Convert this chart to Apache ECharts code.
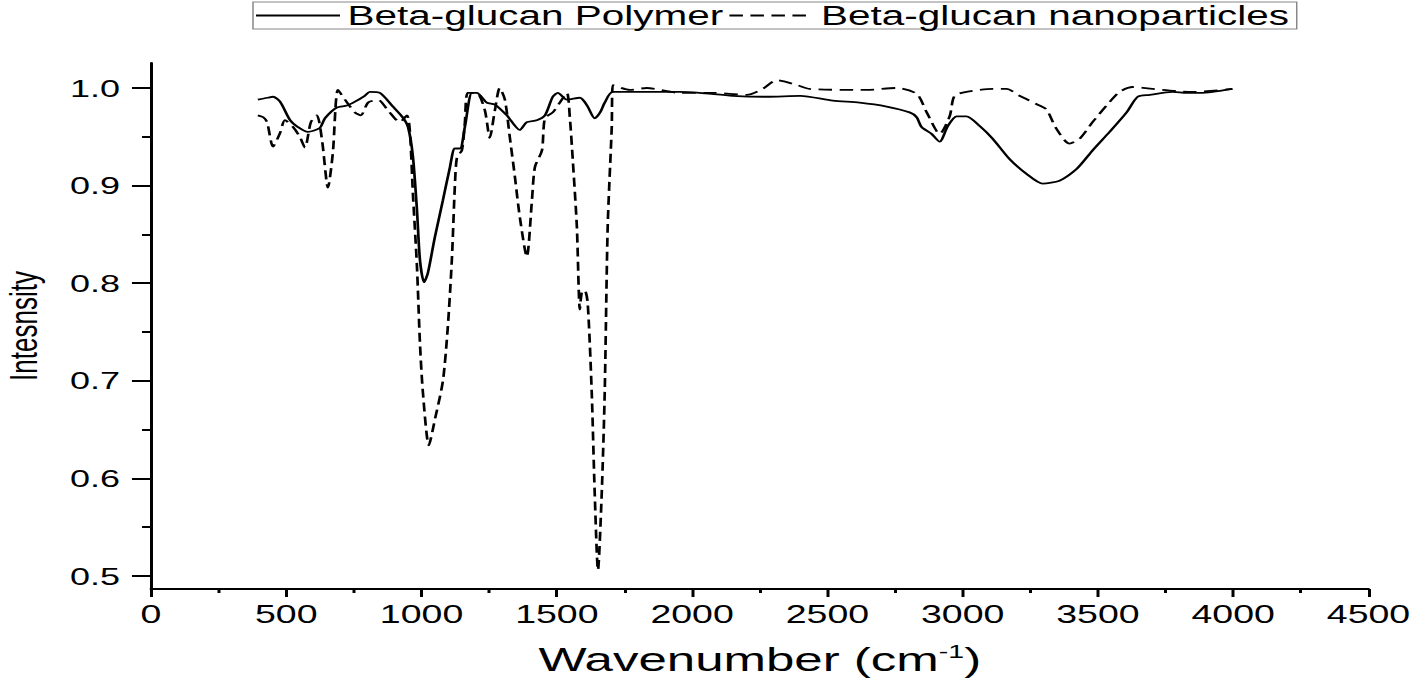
<!DOCTYPE html>
<html>
<head>
<meta charset="utf-8">
<script src="https://cdn.jsdelivr.net/npm/echarts@6/dist/echarts.min.js"></script>
<style>
  html, body { margin: 0; padding: 0; background: #fff; overflow: hidden; }
  /* the source figure is stretched ~1.5x horizontally, so draw narrow and stretch */
  #chart { width: 943.33px; height: 678px; transform: scaleX(1.5); transform-origin: 0 0; }
</style>
</head>
<body>
<div id="chart"></div>
<script>
const STRETCH = 1.5;

const polymerWavenumber = [
  395, 430, 451, 477, 514, 543, 580, 624, 643, 687, 724, 754, 790, 809, 846, 894, 930, 950,
  968, 983, 994, 1009, 1023, 1049, 1079, 1105, 1123, 1142, 1160, 1186, 1204, 1241, 1271, 1315,
  1363, 1389, 1426, 1456, 1485, 1504, 1537, 1585, 1612, 1640, 1660, 1677, 1707, 1832, 1954,
  2028, 2150, 2275, 2400, 2520, 2619, 2719, 2804, 2830, 2848, 2885, 2915, 2945, 2978, 3014,
  3063, 3111, 3174, 3236, 3296, 3358, 3421, 3480, 3543, 3606, 3647, 3691, 3776, 3827, 3876,
  3924, 3997
];
const polymerIntensity = [
  0.988, 0.990, 0.991, 0.986, 0.967, 0.960, 0.955, 0.959, 0.969, 0.980, 0.982, 0.986, 0.992, 0.996, 0.995, 0.981, 0.970, 0.960,
  0.930, 0.875, 0.824, 0.801, 0.810, 0.847, 0.885, 0.919, 0.938, 0.938, 0.960, 0.995, 0.995, 0.985, 0.983, 0.972,
  0.957, 0.965, 0.967, 0.972, 0.991, 0.995, 0.988, 0.990, 0.982, 0.969, 0.975, 0.985, 0.996, 0.996, 0.996,
  0.995, 0.992, 0.991, 0.992, 0.987, 0.985, 0.981, 0.975, 0.970, 0.960, 0.953, 0.945, 0.961, 0.971, 0.971,
  0.961, 0.948, 0.927, 0.912, 0.902, 0.905, 0.917, 0.936, 0.955, 0.975, 0.991, 0.993, 0.996, 0.995, 0.995,
  0.996, 0.999
];

const nanoWavenumber = [
  395, 415, 429, 451, 477, 495, 525, 550, 569, 591, 613, 632, 654, 672, 691, 717, 754, 776, 802,
  839, 876, 920, 946, 957, 968, 983, 994, 1005, 1027, 1049, 1079, 1097, 1112, 1123, 1131, 1149,
  1160, 1171, 1204, 1234, 1252, 1271, 1289, 1308, 1326, 1345, 1363, 1389, 1408, 1419, 1445, 1456,
  1485, 1511, 1537, 1548, 1559, 1574, 1585, 1592, 1603, 1614, 1629, 1640, 1652, 1666, 1677, 1688,
  1703, 1707, 1770, 1832, 1954, 2076, 2202, 2260, 2313, 2387, 2435, 2645, 2756, 2830, 2867, 2915,
  2952, 2970, 3014, 3111, 3162, 3210, 3284, 3310, 3347, 3395, 3432, 3480, 3532, 3580, 3628, 3702,
  3850, 3997
];
const nanoIntensity = [
  0.972, 0.970, 0.965, 0.940, 0.954, 0.967, 0.960, 0.950, 0.939, 0.965, 0.972, 0.947, 0.898, 0.933, 0.998, 0.988, 0.975, 0.972, 0.985,
  0.988, 0.977, 0.965, 0.972, 0.955, 0.892, 0.817, 0.739, 0.688, 0.634, 0.660, 0.700, 0.755, 0.824, 0.899, 0.929, 0.936,
  0.964, 0.995, 0.995, 0.977, 0.949, 0.977, 1.000, 0.988, 0.950, 0.909, 0.868, 0.827, 0.885, 0.919, 0.936, 0.969,
  0.975, 0.985, 0.995, 0.970, 0.926, 0.858, 0.773, 0.790, 0.793, 0.780, 0.688, 0.585, 0.506, 0.585, 0.688, 0.858,
  0.960, 1.003, 0.998, 1.000, 0.995, 0.995, 0.993, 0.999, 1.008, 1.003, 0.999, 0.998, 1.000, 0.994, 0.975, 0.953,
  0.971, 0.992, 0.996, 0.999, 0.999, 0.992, 0.982, 0.978, 0.958, 0.943, 0.948, 0.965, 0.982, 0.996, 1.001, 0.999,
  0.996, 0.999
];

const xTicks = { min: 0, max: 4500, step: 500 };
const yTicks = { min: 0.5, max: 1.0, step: 0.1 };

function zip(xs, ys) {
  return xs.map((x, i) => [x, ys[i]]);
}

const FONT = "'Liberation Sans', Arial, sans-serif";
const INK = "#000";

// pixel frame of the reference (before the horizontal stretch)
const plotLeft = 151 / STRETCH;
const plotRight = (1415 - 1369) / STRETCH;

const chart = echarts.init(document.getElementById("chart"), null, { renderer: "svg" });

chart.setOption({
  animation: false,
  backgroundColor: "#fff",
  legend: {
    left: 253 / STRETCH,
    top: 2,
    padding: [0, 5, 0, 1],
    borderColor: "#888",
    borderWidth: 1,
    itemGap: 3,
    itemWidth: 56,
    itemHeight: 14,
    itemStyle: { opacity: 0 },
    textStyle: { fontFamily: FONT, fontSize: 27, color: INK },
    data: ["Beta-glucan Polymer", "Beta-glucan nanoparticles"],
  },
  grid: [
    { left: plotLeft, right: plotRight, top: 63, bottom: 89, outerBoundsMode: "none" },
    // second grid only carries the y ticks, spanning exactly 0.5..1.0
    { left: plotLeft, right: plotRight, top: 88, bottom: 102, outerBoundsMode: "none" },
  ],
  xAxis: [
    {
      gridIndex: 0,
      type: "value",
      min: xTicks.min,
      max: xTicks.max,
      interval: xTicks.step,
      axisLine: { show: true, lineStyle: { color: INK, width: 2 } },
      axisTick: { show: true, length: 8, lineStyle: { color: INK, width: 2 } },
      minorTick: { show: true, splitNumber: 2, length: 4, lineStyle: { color: INK, width: 2 } },
      splitLine: { show: false },
      axisLabel: { fontFamily: FONT, fontSize: 25, color: INK, margin: 13, formatter: (v) => String(v) },
      name: "Wavenumber (cm{sup|-1})",
      nameLocation: "middle",
      nameGap: 53,
      nameTextStyle: {
        fontFamily: FONT,
        fontSize: 34,
        color: INK,
        rich: { sup: { fontFamily: FONT, fontSize: 19, color: INK, verticalAlign: "top" } },
      },
    },
    { gridIndex: 1, type: "value", min: xTicks.min, max: xTicks.max, show: false },
  ],
  yAxis: [
    {
      gridIndex: 0,
      type: "value",
      min: 0.4867,
      max: 1.0256,
      axisLine: { show: true, lineStyle: { color: INK, width: 2 } },
      axisTick: { show: false },
      axisLabel: { show: false },
      splitLine: { show: false },
      name: "Intesnsity",
      nameLocation: "middle",
      nameGap: 72,
      nameTextStyle: { fontFamily: FONT, fontSize: 26, lineHeight: 26, color: INK },
    },
    {
      gridIndex: 1,
      type: "value",
      min: yTicks.min,
      max: yTicks.max,
      interval: yTicks.step,
      axisLine: { show: false },
      axisTick: { show: true, length: 12.7, lineStyle: { color: INK, width: 2 } },
      minorTick: { show: true, splitNumber: 2, length: 6, lineStyle: { color: INK, width: 2 } },
      splitLine: { show: false },
      axisLabel: {
        fontFamily: FONT,
        fontSize: 24,
        color: INK,
        margin: 20.7,
        formatter: (v) => v.toFixed(1),
      },
    },
  ],
  series: [
    {
      name: "Beta-glucan Polymer",
      type: "line",
      xAxisIndex: 0,
      yAxisIndex: 0,
      symbol: "none",
      smooth: 0.25,
      lineStyle: { color: INK, width: 1.8, type: "solid" },
      itemStyle: { color: INK },
      data: zip(polymerWavenumber, polymerIntensity),
    },
    {
      name: "Beta-glucan nanoparticles",
      type: "line",
      xAxisIndex: 0,
      yAxisIndex: 0,
      symbol: "none",
      smooth: 0.25,
      lineStyle: { color: INK, width: 1.8, type: [9, 5] },
      itemStyle: { color: INK },
      data: zip(nanoWavenumber, nanoIntensity),
    },
  ],
});
</script>
</body>
</html>
